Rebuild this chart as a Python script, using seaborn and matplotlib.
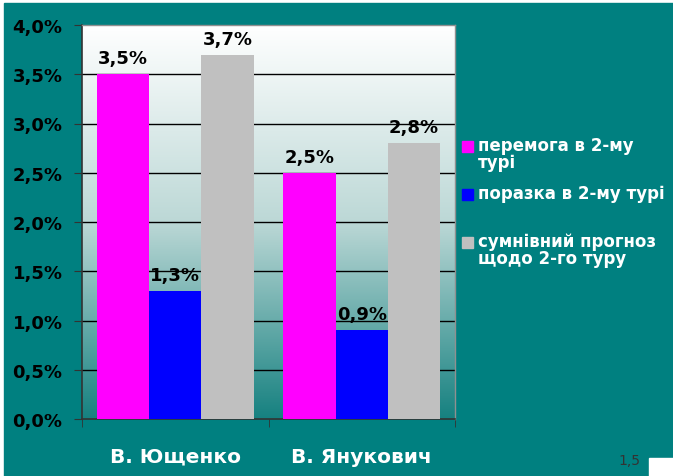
import numpy as np
import pandas as pd
import seaborn as sns
import matplotlib.pyplot as plt
from matplotlib.colors import LinearSegmentedColormap
from matplotlib.ticker import MultipleLocator, FuncFormatter
from matplotlib.patches import Patch, Rectangle
from matplotlib.legend_handler import HandlerPatch

# values
candidates = ['В. Ющенко', 'В. Янукович']
series = ['перемога в 2-му\nтурі', 'поразка в 2-му турі\n', 'сумнівний прогноз\nщодо 2-го туру']
win = [3.5, 2.5]
loss = [1.3, 0.9]
doubt = [3.7, 2.8]
colors = ['#FF00FF', '#0000FF', '#C0C0C0']

df = pd.DataFrame({
    'candidate': candidates * 3,
    'series': [series[0]] * 2 + [series[1]] * 2 + [series[2]] * 2,
    'value': win + loss + doubt,
})

sns.set_style('white')
plt.rcParams['font.family'] = ['DejaVu Sans']

fig = plt.figure(figsize=(6.73, 4.77), dpi=100)
fig.patch.set_facecolor('white')
# teal slide background
fig.add_artist(plt.Rectangle((4 / 673, 0), 669 / 673, 473 / 477, transform=fig.transFigure,
                             color='#008080', zorder=0))
fig.add_artist(plt.Rectangle((649 / 673, 0), 24 / 673, 18 / 477, transform=fig.transFigure,
                             color='white', zorder=1))

ax = fig.add_axes([82 / 673, 57 / 477, 373 / 673, 394 / 477])
ax.set_facecolor('none')

# gradient fill of plot area
grad = LinearSegmentedColormap.from_list('g', ['#ffffff', '#bcd8d6', '#168180'])
ax.imshow(np.linspace(0, 1, 256).reshape(-1, 1), cmap=grad, aspect='auto',
          extent=[-0.5, 1.5, 0, 4.0], zorder=0)

sns.barplot(data=df, x='candidate', y='value', hue='series', palette=colors,
            width=0.84, gap=0, saturation=1, linewidth=0, ax=ax, legend=False)
for p in ax.patches:
    p.set_zorder(3)

ax.set_xlim(-0.5, 1.5)
ax.set_ylim(0, 4.0)
ax.yaxis.set_major_locator(MultipleLocator(0.5))
ax.yaxis.set_major_formatter(FuncFormatter(lambda v, p: f'{v:.1f}%'.replace('.', ',')))
for y in np.arange(0.5, 4.0, 0.5):
    ax.axhline(y, color='black', lw=1, zorder=1)

for c in ax.containers:
    ax.bar_label(c, labels=[f'{v:.1f}%'.replace('.', ',') for v in c.datavalues],
                 padding=5, fontsize=13, fontweight='bold', color='black', zorder=4)

ax.set_xlabel('')
ax.set_ylabel('')
ax.set_xticks([0, 1])
ax.set_xticklabels(candidates, fontsize=14.5, fontweight='bold', color='white')
ax.tick_params(axis='x', length=0, pad=20)
ax.set_xticks([-0.5, 0.5, 1.5], minor=True)
ax.tick_params(axis='x', which='minor', length=6, color='#333333', direction='out', bottom=True)
ax.tick_params(axis='y', length=6, color='#333333', direction='out', left=True,
               labelsize=13, labelcolor='black', pad=8)
for t in ax.get_yticklabels():
    t.set_fontweight('bold')

for s in ['top', 'right']:
    ax.spines[s].set_color('#909090')
    ax.spines[s].set_linewidth(1)
for s in ['left', 'bottom']:
    ax.spines[s].set_color('#333333')
    ax.spines[s].set_linewidth(1.2)


# legend squares sit on the first text line, like in PowerPoint
def top_square(legend, orig_handle, xdescent, ydescent, width, height, fontsize):
    return Rectangle((-xdescent, -ydescent + 0.5 * fontsize), width, height)


handles = [Patch(color=c) for c in colors]
leg = ax.legend(handles, series, loc='upper left', bbox_to_anchor=(455 / 673, 347 / 477),
                bbox_transform=fig.transFigure, handler_map={Patch: HandlerPatch(patch_func=top_square)},
                frameon=False, fontsize=12, labelcolor='white', handlelength=0.65, handleheight=0.65,
                handletextpad=0.35, labelspacing=0.75, borderaxespad=0)
for t in leg.get_texts():
    t.set_fontweight('bold')
    t.set_linespacing(0.97)

fig.text(640 / 673, 16 / 477, '1,5', ha='right', va='center', fontsize=10, color='#333333')

fig.savefig('out.png', dpi=100)
